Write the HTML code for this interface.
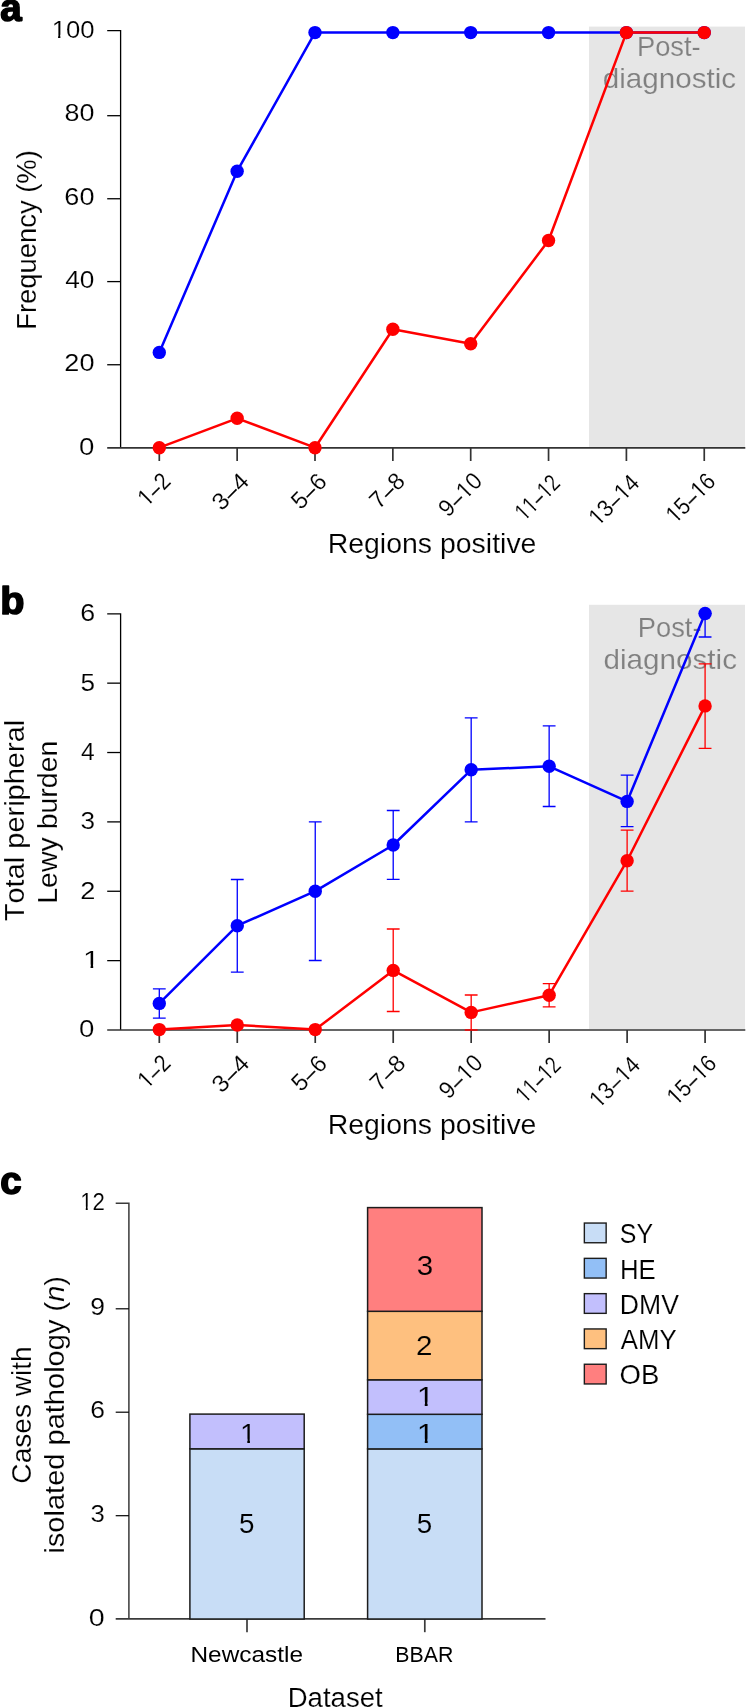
<!DOCTYPE html>
<html><head><meta charset="utf-8"><title>Figure</title>
<style>
html,body{margin:0;padding:0;background:#fff;}
body{width:746px;height:1708px;overflow:hidden;}
svg{display:block;will-change:transform;}
svg text{font-family:"Liberation Sans",sans-serif;font-kerning:none;stroke:#fff;stroke-width:0.15px;paint-order:fill;}
svg text.g{stroke:#e6e6e6;}
svg text.nb{stroke:none;}
svg tspan.dash{stroke:#000;stroke-width:0.35px;}
</style></head><body>
<svg width="746" height="1708" viewBox="0 0 746 1708">
<rect width="746" height="1708" fill="#fff"/>
<rect x="589" y="26.6" width="156" height="420.3" fill="#e6e6e6"/>
<text transform="translate(636.96,55.6) scale(1.0117,1)" font-size="27" fill="#808080" class="g">Post-</text>
<text transform="translate(602.66,87.8) scale(1.0894,1)" font-size="27.2" fill="#808080" class="g">diagnostic</text>
<path d="M107.2,30.6 H120.6 V447.9" fill="none" stroke="#000" stroke-width="1.3"/>
<path d="M107.2,115.7 H120.6" stroke="#000" stroke-width="1.3"/>
<path d="M107.2,198.75 H120.6" stroke="#000" stroke-width="1.3"/>
<path d="M107.2,281.6 H120.6" stroke="#000" stroke-width="1.3"/>
<path d="M107.2,364.75 H120.6" stroke="#000" stroke-width="1.3"/>
<path d="M107.2,447.9 H745.3" stroke="#333" stroke-width="1.7"/>
<path d="M159.3,447.9 V461" stroke="#333" stroke-width="1.7"/>
<path d="M237.15,447.9 V461" stroke="#333" stroke-width="1.7"/>
<path d="M315,447.9 V461" stroke="#333" stroke-width="1.7"/>
<path d="M392.85,447.9 V461" stroke="#333" stroke-width="1.7"/>
<path d="M470.7,447.9 V461" stroke="#333" stroke-width="1.7"/>
<path d="M548.55,447.9 V461" stroke="#333" stroke-width="1.7"/>
<path d="M626.4,447.9 V461" stroke="#333" stroke-width="1.7"/>
<path d="M704.25,447.9 V461" stroke="#333" stroke-width="1.7"/>
<g transform="translate(51.63,38.3) scale(1.0617,1)"><clipPath id="k1" clipPathUnits="userSpaceOnUse"><path clip-rule="evenodd" d="M-400,-400H400V400H-400ZM0.71,-3.55H6.07V3.00H0.71ZM8.24,-3.55H13.35V3.00H8.24Z"/></clipPath><text clip-path="url(#k1)" font-size="24.2" fill="#000">100</text></g>
<text transform="translate(64.53,121) scale(1.1114,1)" font-size="24.2" fill="#000">80</text>
<text transform="translate(64.32,205.2) scale(1.1062,1)" font-size="24.49" fill="#000">60</text>
<text transform="translate(65.2,288.2) scale(1.0857,1)" font-size="24.2" fill="#000">40</text>
<text transform="translate(64.34,371) scale(1.1322,1)" font-size="23.92" fill="#000">20</text>
<text transform="translate(79.12,455) scale(1.1545,1)" font-size="23.92" fill="#000">0</text>
<text transform="translate(36.1,329.85) rotate(-90) scale(1.0041,1)" font-size="27.3" fill="#000">Frequency (%)</text>
<g transform="translate(171.9,482.7) rotate(-45) scale(0.8794,1)"><clipPath id="k2" clipPathUnits="userSpaceOnUse"><path clip-rule="evenodd" d="M-400,-400H400V400H-400ZM-38.98,-3.50H-33.68V3H-38.98ZM-31.55,-3.50H-26.50V3H-31.55Z"/></clipPath><text clip-path="url(#k2)" font-size="23.9"><tspan x="-39.68">1</tspan><tspan x="-25.49" font-size="20.31" class="dash">–</tspan><tspan x="-13.29">2</tspan></text></g>
<g transform="translate(250.55,482.7) rotate(-45) scale(1.0363,1)"><text font-size="23.9"><tspan x="-39.68">3</tspan><tspan x="-25.49" font-size="20.31" class="dash">–</tspan><tspan x="-13.29">4</tspan></text></g>
<g transform="translate(328.2,483) rotate(-45) scale(0.9798,1)"><text font-size="23.9"><tspan x="-39.68">5</tspan><tspan x="-25.49" font-size="20.31" class="dash">–</tspan><tspan x="-13.29">6</tspan></text></g>
<g transform="translate(406.45,482.7) rotate(-45) scale(0.9752,1)"><text font-size="23.9"><tspan x="-39.68">7</tspan><tspan x="-25.49" font-size="20.31" class="dash">–</tspan><tspan x="-13.29">8</tspan></text></g>
<g transform="translate(483.7,482.3) rotate(-45) scale(0.9502,1)"><clipPath id="k3" clipPathUnits="userSpaceOnUse"><path clip-rule="evenodd" d="M-400,-400H400V400H-400ZM-25.88,-3.50H-20.59V3H-25.88ZM-18.45,-3.50H-13.40V3H-18.45Z"/></clipPath><text clip-path="url(#k3)" font-size="23.9"><tspan x="-52.97">9</tspan><tspan x="-38.78" font-size="20.31" class="dash">–</tspan><tspan x="-26.58">10</tspan></text></g>
<g transform="translate(561.45,484.7) rotate(-45) scale(0.7880,1)"><clipPath id="k4" clipPathUnits="userSpaceOnUse"><path clip-rule="evenodd" d="M-400,-400H400V400H-400ZM-65.57,-3.50H-60.27V3H-65.57ZM-58.13,-3.50H-53.08V3H-58.13ZM-52.27,-3.50H-46.98V3H-52.27ZM-44.84,-3.50H-39.79V3H-44.84ZM-25.88,-3.50H-20.59V3H-25.88ZM-18.45,-3.50H-13.40V3H-18.45Z"/></clipPath><text clip-path="url(#k4)" font-size="23.9"><tspan x="-66.27">11</tspan><tspan x="-38.78" font-size="20.31" class="dash">–</tspan><tspan x="-26.58">12</tspan></text></g>
<g transform="translate(640.8,484.4) rotate(-45) scale(0.9063,1)"><clipPath id="k5" clipPathUnits="userSpaceOnUse"><path clip-rule="evenodd" d="M-400,-400H400V400H-400ZM-65.57,-3.50H-60.27V3H-65.57ZM-58.13,-3.50H-53.08V3H-58.13ZM-25.88,-3.50H-20.59V3H-25.88ZM-18.45,-3.50H-13.40V3H-18.45Z"/></clipPath><text clip-path="url(#k5)" font-size="23.9"><tspan x="-66.27">13</tspan><tspan x="-38.78" font-size="20.31" class="dash">–</tspan><tspan x="-26.58">14</tspan></text></g>
<g transform="translate(716.85,482.9) rotate(-45) scale(0.8817,1)"><clipPath id="k6" clipPathUnits="userSpaceOnUse"><path clip-rule="evenodd" d="M-400,-400H400V400H-400ZM-65.57,-3.50H-60.27V3H-65.57ZM-58.13,-3.50H-53.08V3H-58.13ZM-25.88,-3.50H-20.59V3H-25.88ZM-18.45,-3.50H-13.40V3H-18.45Z"/></clipPath><text clip-path="url(#k6)" font-size="23.9"><tspan x="-66.27">15</tspan><tspan x="-38.78" font-size="20.31" class="dash">–</tspan><tspan x="-26.58">16</tspan></text></g>
<text transform="translate(327.66,552.9) scale(1.0429,1)" font-size="27.3" fill="#000">Regions positive</text>
<path d="M159.3,352.4 L237.15,171.2 L315,32.6 L392.85,32.6 L470.7,32.6 L548.55,32.6 L626.4,32.6 L704.25,32.6" fill="none" stroke="#0000ff" stroke-width="2.5" stroke-linejoin="round"/>
<circle cx="159.3" cy="352.4" r="6.7" fill="#0000ff"/>
<circle cx="237.15" cy="171.2" r="6.7" fill="#0000ff"/>
<circle cx="315" cy="32.6" r="6.7" fill="#0000ff"/>
<circle cx="392.85" cy="32.6" r="6.7" fill="#0000ff"/>
<circle cx="470.7" cy="32.6" r="6.7" fill="#0000ff"/>
<circle cx="548.55" cy="32.6" r="6.7" fill="#0000ff"/>
<circle cx="626.4" cy="32.6" r="6.7" fill="#0000ff"/>
<circle cx="704.25" cy="32.6" r="6.7" fill="#0000ff"/>
<path d="M159.3,447.7 L237.15,418.3 L315,447.7 L392.85,329.3 L470.7,343.8 L548.55,240.5 L626.4,32.6 L704.25,32.6" fill="none" stroke="#ff0000" stroke-width="2.5" stroke-linejoin="round"/>
<circle cx="159.3" cy="447.7" r="6.7" fill="#ff0000"/>
<circle cx="237.15" cy="418.3" r="6.7" fill="#ff0000"/>
<circle cx="315" cy="447.7" r="6.7" fill="#ff0000"/>
<circle cx="392.85" cy="329.3" r="6.7" fill="#ff0000"/>
<circle cx="470.7" cy="343.8" r="6.7" fill="#ff0000"/>
<circle cx="548.55" cy="240.5" r="6.7" fill="#ff0000"/>
<circle cx="626.4" cy="32.6" r="6.7" fill="#ff0000"/>
<circle cx="704.25" cy="32.6" r="6.7" fill="#ff0000"/>
<text x="0.3" y="21.0" font-size="38.5" font-weight="bold" style="stroke:#000;stroke-width:1.6px;stroke-linejoin:round">a</text>
<rect x="589" y="604.8" width="156" height="424.2" fill="#e6e6e6"/>
<text transform="translate(637.76,636.9) scale(1.0117,1)" font-size="27" fill="#808080" class="g">Post-</text>
<text transform="translate(603.56,668.8) scale(1.0894,1)" font-size="27.2" fill="#808080" class="g">diagnostic</text>
<path d="M107.2,613.78 H120.6 V1030" fill="none" stroke="#000" stroke-width="1.3"/>
<path d="M107.2,960.63 H120.6" stroke="#000" stroke-width="1.3"/>
<path d="M107.2,891.26 H120.6" stroke="#000" stroke-width="1.3"/>
<path d="M107.2,821.89 H120.6" stroke="#000" stroke-width="1.3"/>
<path d="M107.2,752.52 H120.6" stroke="#000" stroke-width="1.3"/>
<path d="M107.2,683.15 H120.6" stroke="#000" stroke-width="1.3"/>
<path d="M107.2,1030 H745.3" stroke="#333" stroke-width="1.7"/>
<path d="M159.3,1030 V1043" stroke="#333" stroke-width="1.7"/>
<path d="M237.27,1030 V1043" stroke="#333" stroke-width="1.7"/>
<path d="M315.24,1030 V1043" stroke="#333" stroke-width="1.7"/>
<path d="M393.21,1030 V1043" stroke="#333" stroke-width="1.7"/>
<path d="M471.18,1030 V1043" stroke="#333" stroke-width="1.7"/>
<path d="M549.15,1030 V1043" stroke="#333" stroke-width="1.7"/>
<path d="M627.12,1030 V1043" stroke="#333" stroke-width="1.7"/>
<path d="M705.09,1030 V1043" stroke="#333" stroke-width="1.7"/>
<text transform="translate(79.02,1037.45) scale(1.1409,1)" font-size="24.2" fill="#000">0</text>
<g transform="translate(83.02,968.08) scale(1.2197,1)"><clipPath id="k7" clipPathUnits="userSpaceOnUse"><path clip-rule="evenodd" d="M-400,-400H400V400H-400ZM0.72,-3.60H6.17V3.00H0.72ZM8.36,-3.60H13.55V3.00H8.36Z"/></clipPath><text clip-path="url(#k7)" font-size="24.56" fill="#000">1</text></g>
<text transform="translate(80.23,898.71) scale(1.1246,1)" font-size="24.2" fill="#000">2</text>
<text transform="translate(80.6,829.34) scale(1.0806,1)" font-size="24.2" fill="#000">3</text>
<text transform="translate(81.04,759.97) scale(1.0018,1)" font-size="24.56" fill="#000">4</text>
<text transform="translate(80.55,690.6) scale(1.0647,1)" font-size="24.56" fill="#000">5</text>
<text transform="translate(80.24,621.23) scale(1.1103,1)" font-size="24.2" fill="#000">6</text>
<text transform="translate(23.9,921.25) rotate(-90) scale(1.0622,1)" font-size="27.3" fill="#000">Total peripheral</text>
<text transform="translate(56.8,903.74) rotate(-90) scale(1.0439,1)" font-size="27.3" fill="#000">Lewy burden</text>
<g transform="translate(171.9,1064.8) rotate(-45) scale(0.8794,1)"><clipPath id="k8" clipPathUnits="userSpaceOnUse"><path clip-rule="evenodd" d="M-400,-400H400V400H-400ZM-38.98,-3.50H-33.68V3H-38.98ZM-31.55,-3.50H-26.50V3H-31.55Z"/></clipPath><text clip-path="url(#k8)" font-size="23.9"><tspan x="-39.68">1</tspan><tspan x="-25.49" font-size="20.31" class="dash">–</tspan><tspan x="-13.29">2</tspan></text></g>
<g transform="translate(250.67,1064.8) rotate(-45) scale(1.0363,1)"><text font-size="23.9"><tspan x="-39.68">3</tspan><tspan x="-25.49" font-size="20.31" class="dash">–</tspan><tspan x="-13.29">4</tspan></text></g>
<g transform="translate(328.44,1065.1) rotate(-45) scale(0.9798,1)"><text font-size="23.9"><tspan x="-39.68">5</tspan><tspan x="-25.49" font-size="20.31" class="dash">–</tspan><tspan x="-13.29">6</tspan></text></g>
<g transform="translate(406.81,1064.8) rotate(-45) scale(0.9752,1)"><text font-size="23.9"><tspan x="-39.68">7</tspan><tspan x="-25.49" font-size="20.31" class="dash">–</tspan><tspan x="-13.29">8</tspan></text></g>
<g transform="translate(484.18,1064.4) rotate(-45) scale(0.9502,1)"><clipPath id="k9" clipPathUnits="userSpaceOnUse"><path clip-rule="evenodd" d="M-400,-400H400V400H-400ZM-25.88,-3.50H-20.59V3H-25.88ZM-18.45,-3.50H-13.40V3H-18.45Z"/></clipPath><text clip-path="url(#k9)" font-size="23.9"><tspan x="-52.97">9</tspan><tspan x="-38.78" font-size="20.31" class="dash">–</tspan><tspan x="-26.58">10</tspan></text></g>
<g transform="translate(562.05,1066.8) rotate(-45) scale(0.7880,1)"><clipPath id="k10" clipPathUnits="userSpaceOnUse"><path clip-rule="evenodd" d="M-400,-400H400V400H-400ZM-65.57,-3.50H-60.27V3H-65.57ZM-58.13,-3.50H-53.08V3H-58.13ZM-52.27,-3.50H-46.98V3H-52.27ZM-44.84,-3.50H-39.79V3H-44.84ZM-25.88,-3.50H-20.59V3H-25.88ZM-18.45,-3.50H-13.40V3H-18.45Z"/></clipPath><text clip-path="url(#k10)" font-size="23.9"><tspan x="-66.27">11</tspan><tspan x="-38.78" font-size="20.31" class="dash">–</tspan><tspan x="-26.58">12</tspan></text></g>
<g transform="translate(641.52,1066.5) rotate(-45) scale(0.9063,1)"><clipPath id="k11" clipPathUnits="userSpaceOnUse"><path clip-rule="evenodd" d="M-400,-400H400V400H-400ZM-65.57,-3.50H-60.27V3H-65.57ZM-58.13,-3.50H-53.08V3H-58.13ZM-25.88,-3.50H-20.59V3H-25.88ZM-18.45,-3.50H-13.40V3H-18.45Z"/></clipPath><text clip-path="url(#k11)" font-size="23.9"><tspan x="-66.27">13</tspan><tspan x="-38.78" font-size="20.31" class="dash">–</tspan><tspan x="-26.58">14</tspan></text></g>
<g transform="translate(717.69,1065) rotate(-45) scale(0.8817,1)"><clipPath id="k12" clipPathUnits="userSpaceOnUse"><path clip-rule="evenodd" d="M-400,-400H400V400H-400ZM-65.57,-3.50H-60.27V3H-65.57ZM-58.13,-3.50H-53.08V3H-58.13ZM-25.88,-3.50H-20.59V3H-25.88ZM-18.45,-3.50H-13.40V3H-18.45Z"/></clipPath><text clip-path="url(#k12)" font-size="23.9"><tspan x="-66.27">15</tspan><tspan x="-38.78" font-size="20.31" class="dash">–</tspan><tspan x="-26.58">16</tspan></text></g>
<text transform="translate(327.66,1134) scale(1.0429,1)" font-size="27.3" fill="#000">Regions positive</text>
<path d="M159.3,1018.1 V988.8 M152.9,1018.1 H165.7 M152.9,988.8 H165.7" stroke="#0000ff" stroke-width="1.3" fill="none"/>
<path d="M237.27,972.2 V879.5 M230.87,972.2 H243.67 M230.87,879.5 H243.67" stroke="#0000ff" stroke-width="1.3" fill="none"/>
<path d="M315.24,960.5 V821.9 M308.84,960.5 H321.64 M308.84,821.9 H321.64" stroke="#0000ff" stroke-width="1.3" fill="none"/>
<path d="M393.21,879.4 V810.5 M386.81,879.4 H399.61 M386.81,810.5 H399.61" stroke="#0000ff" stroke-width="1.3" fill="none"/>
<path d="M471.18,821.8 V717.9 M464.78,821.8 H477.58 M464.78,717.9 H477.58" stroke="#0000ff" stroke-width="1.3" fill="none"/>
<path d="M549.15,806.5 V725.9 M542.75,806.5 H555.55 M542.75,725.9 H555.55" stroke="#0000ff" stroke-width="1.3" fill="none"/>
<path d="M627.12,826.6 V775.2 M620.72,826.6 H633.52 M620.72,775.2 H633.52" stroke="#0000ff" stroke-width="1.3" fill="none"/>
<path d="M705.09,637 V613.5 M698.69,637 H711.49 M698.69,613.5 H711.49" stroke="#0000ff" stroke-width="1.3" fill="none"/>
<path d="M393.21,1011.5 V929 M386.81,1011.5 H399.61 M386.81,929 H399.61" stroke="#ff0000" stroke-width="1.3" fill="none"/>
<path d="M471.18,1030 V995 M464.78,1030 H477.58 M464.78,995 H477.58" stroke="#ff0000" stroke-width="1.3" fill="none"/>
<path d="M549.15,1006.9 V983.6 M542.75,1006.9 H555.55 M542.75,983.6 H555.55" stroke="#ff0000" stroke-width="1.3" fill="none"/>
<path d="M627.12,891.1 V830.1 M620.72,891.1 H633.52 M620.72,830.1 H633.52" stroke="#ff0000" stroke-width="1.3" fill="none"/>
<path d="M705.09,748.4 V663.8 M698.69,748.4 H711.49 M698.69,663.8 H711.49" stroke="#ff0000" stroke-width="1.3" fill="none"/>
<path d="M159.3,1003.4 L237.27,925.7 L315.24,891.2 L393.21,845 L471.18,769.8 L549.15,766.3 L627.12,801.4 L705.09,613.5" fill="none" stroke="#0000ff" stroke-width="2.5" stroke-linejoin="round"/>
<circle cx="159.3" cy="1003.4" r="6.7" fill="#0000ff"/>
<circle cx="237.27" cy="925.7" r="6.7" fill="#0000ff"/>
<circle cx="315.24" cy="891.2" r="6.7" fill="#0000ff"/>
<circle cx="393.21" cy="845" r="6.7" fill="#0000ff"/>
<circle cx="471.18" cy="769.8" r="6.7" fill="#0000ff"/>
<circle cx="549.15" cy="766.3" r="6.7" fill="#0000ff"/>
<circle cx="627.12" cy="801.4" r="6.7" fill="#0000ff"/>
<circle cx="705.09" cy="613.5" r="6.7" fill="#0000ff"/>
<path d="M159.3,1029.6 L237.27,1025 L315.24,1029.6 L393.21,970.4 L471.18,1012.4 L549.15,995.2 L627.12,860.7 L705.09,705.9" fill="none" stroke="#ff0000" stroke-width="2.5" stroke-linejoin="round"/>
<circle cx="159.3" cy="1029.6" r="6.7" fill="#ff0000"/>
<circle cx="237.27" cy="1025" r="6.7" fill="#ff0000"/>
<circle cx="315.24" cy="1029.6" r="6.7" fill="#ff0000"/>
<circle cx="393.21" cy="970.4" r="6.7" fill="#ff0000"/>
<circle cx="471.18" cy="1012.4" r="6.7" fill="#ff0000"/>
<circle cx="549.15" cy="995.2" r="6.7" fill="#ff0000"/>
<circle cx="627.12" cy="860.7" r="6.7" fill="#ff0000"/>
<circle cx="705.09" cy="705.9" r="6.7" fill="#ff0000"/>
<text transform="translate(0.3,613.5) scale(1.03,1)" font-size="38.5" font-weight="bold" style="stroke:#000;stroke-width:1.6px;stroke-linejoin:round">b</text>
<path d="M115.7,1203.2 H128.9 V1618.8" fill="none" stroke="#3a3a3a" stroke-width="1.5"/>
<path d="M115.7,1515.7 H128.9" stroke="#000" stroke-width="1.2"/>
<path d="M115.7,1412.2 H128.9" stroke="#000" stroke-width="1.2"/>
<path d="M115.7,1308.8 H128.9" stroke="#000" stroke-width="1.2"/>
<path d="M115.7,1618.8 H545.5" stroke="#3a3a3a" stroke-width="1.7"/>
<path d="M247.0,1618.8 V1632.2" stroke="#3a3a3a" stroke-width="1.7"/>
<path d="M424.8,1618.8 V1632.2" stroke="#3a3a3a" stroke-width="1.7"/>
<g transform="translate(80.16,1209.8) scale(0.9536,1)"><clipPath id="k13" clipPathUnits="userSpaceOnUse"><path clip-rule="evenodd" d="M-400,-400H400V400H-400ZM0.68,-3.42H5.86V3.00H0.68ZM7.94,-3.42H12.88V3.00H7.94Z"/></clipPath><text clip-path="url(#k13)" font-size="23.34" fill="#000">12</text></g>
<text transform="translate(90.26,1314.6) scale(1.1245,1)" font-size="23.49" fill="#000">9</text>
<text transform="translate(90.16,1418) scale(1.1257,1)" font-size="23.49" fill="#000">6</text>
<text transform="translate(90.52,1521.5) scale(1.0956,1)" font-size="23.49" fill="#000">3</text>
<text transform="translate(88.68,1626) scale(1.2055,1)" font-size="23.77" fill="#000">0</text>
<rect x="189.9" y="1448.8" width="114.3" height="170.2" fill="#c8ddf6" stroke="#1c1c1c" stroke-width="1.5"/>
<rect x="189.9" y="1414.1" width="114.3" height="34.7" fill="#c2bffd" stroke="#1c1c1c" stroke-width="1.5"/>
<rect x="367.6" y="1448.9" width="114.4" height="170.1" fill="#c8ddf6" stroke="#1c1c1c" stroke-width="1.5"/>
<rect x="367.6" y="1414.3" width="114.4" height="34.6" fill="#92bff6" stroke="#1c1c1c" stroke-width="1.5"/>
<rect x="367.6" y="1379.8" width="114.4" height="34.5" fill="#c2bffd" stroke="#1c1c1c" stroke-width="1.5"/>
<rect x="367.6" y="1311.3" width="114.4" height="68.5" fill="#fec07f" stroke="#1c1c1c" stroke-width="1.5"/>
<rect x="367.6" y="1207.6" width="114.4" height="103.7" fill="#ff7f7f" stroke="#1c1c1c" stroke-width="1.5"/>
<text transform="translate(238.99,1533.1) scale(0.9823,1)" font-size="28.34" fill="#000" style="stroke:#c8ddf6">5</text>
<g transform="translate(240,1443) scale(1.0281,1)"><clipPath id="k14" clipPathUnits="userSpaceOnUse"><path clip-rule="evenodd" d="M-400,-400H400V400H-400ZM0.83,-4.15H7.11V3.00H0.83ZM9.65,-4.15H15.64V3.00H9.65Z"/></clipPath><text clip-path="url(#k14)" font-size="28.34" fill="#000" style="stroke:#c2bffd">1</text></g>
<text transform="translate(416.79,1533.1) scale(0.9823,1)" font-size="28.34" fill="#000" style="stroke:#c8ddf6">5</text>
<g transform="translate(416.72,1443) scale(1.1237,1)"><clipPath id="k15" clipPathUnits="userSpaceOnUse"><path clip-rule="evenodd" d="M-400,-400H400V400H-400ZM0.83,-4.17H7.15V3.00H0.83ZM9.70,-4.17H15.72V3.00H9.70Z"/></clipPath><text clip-path="url(#k15)" font-size="28.49" fill="#000" style="stroke:#92bff6">1</text></g>
<g transform="translate(416.72,1405.9) scale(1.1412,1)"><clipPath id="k16" clipPathUnits="userSpaceOnUse"><path clip-rule="evenodd" d="M-400,-400H400V400H-400ZM0.82,-4.11H7.04V3.00H0.82ZM9.55,-4.11H15.48V3.00H9.55Z"/></clipPath><text clip-path="url(#k16)" font-size="28.05" fill="#000" style="stroke:#c2bffd">1</text></g>
<text transform="translate(416.01,1355) scale(1.0833,1)" font-size="27.35" fill="#000" style="stroke:#fec07f">2</text>
<text transform="translate(416.78,1275.3) scale(1.0361,1)" font-size="28.5" fill="#000" style="stroke:#ff7f7f">3</text>
<rect x="584.35" y="1223.05" width="21.8" height="19.7" fill="#c8ddf6" stroke="#1c1c1c" stroke-width="1.4"/>
<rect x="584.35" y="1258.35" width="21.8" height="19.7" fill="#92bff6" stroke="#1c1c1c" stroke-width="1.4"/>
<rect x="584.35" y="1293.65" width="21.8" height="19.7" fill="#c2bffd" stroke="#1c1c1c" stroke-width="1.4"/>
<rect x="584.35" y="1328.95" width="21.8" height="19.7" fill="#fec07f" stroke="#1c1c1c" stroke-width="1.4"/>
<rect x="584.35" y="1364.25" width="21.8" height="19.7" fill="#ff7f7f" stroke="#1c1c1c" stroke-width="1.4"/>
<text transform="translate(619.77,1243.1) scale(0.8816,1)" font-size="28.3" fill="#000">SY</text>
<text transform="translate(619.89,1279.1) scale(0.9084,1)" font-size="28.3" fill="#000">HE</text>
<text transform="translate(619.82,1314) scale(0.9398,1)" font-size="28.3" fill="#000">DMV</text>
<text transform="translate(620.85,1349) scale(0.9102,1)" font-size="28.3" fill="#000">AMY</text>
<text transform="translate(619.6,1383.8) scale(0.9723,1)" font-size="28.3" fill="#000">OB</text>
<text transform="translate(31,1483.63) rotate(-90) scale(1.0287,1)" font-size="27.3" fill="#000">Cases with</text>
<text transform="translate(63.8,1553.64) rotate(-90) scale(1.0640,1)" font-size="27.3" fill="#000">isolated pathology (<tspan font-style="italic">n</tspan>)</text>
<text transform="translate(190.5,1662.3) scale(1.1300,1)" font-size="21.6" fill="#000" class="nb">Newcastle</text>
<text transform="translate(395.25,1662.3) scale(0.9644,1)" font-size="22.1" fill="#000" class="nb">BBAR</text>
<text transform="translate(287.74,1706.6) scale(1.0093,1)" font-size="27.3" fill="#000">Dataset</text>
<text x="0.3" y="1194.0" font-size="38.5" font-weight="bold" style="stroke:#000;stroke-width:1.6px;stroke-linejoin:round">c</text>
</svg>
</body></html>
